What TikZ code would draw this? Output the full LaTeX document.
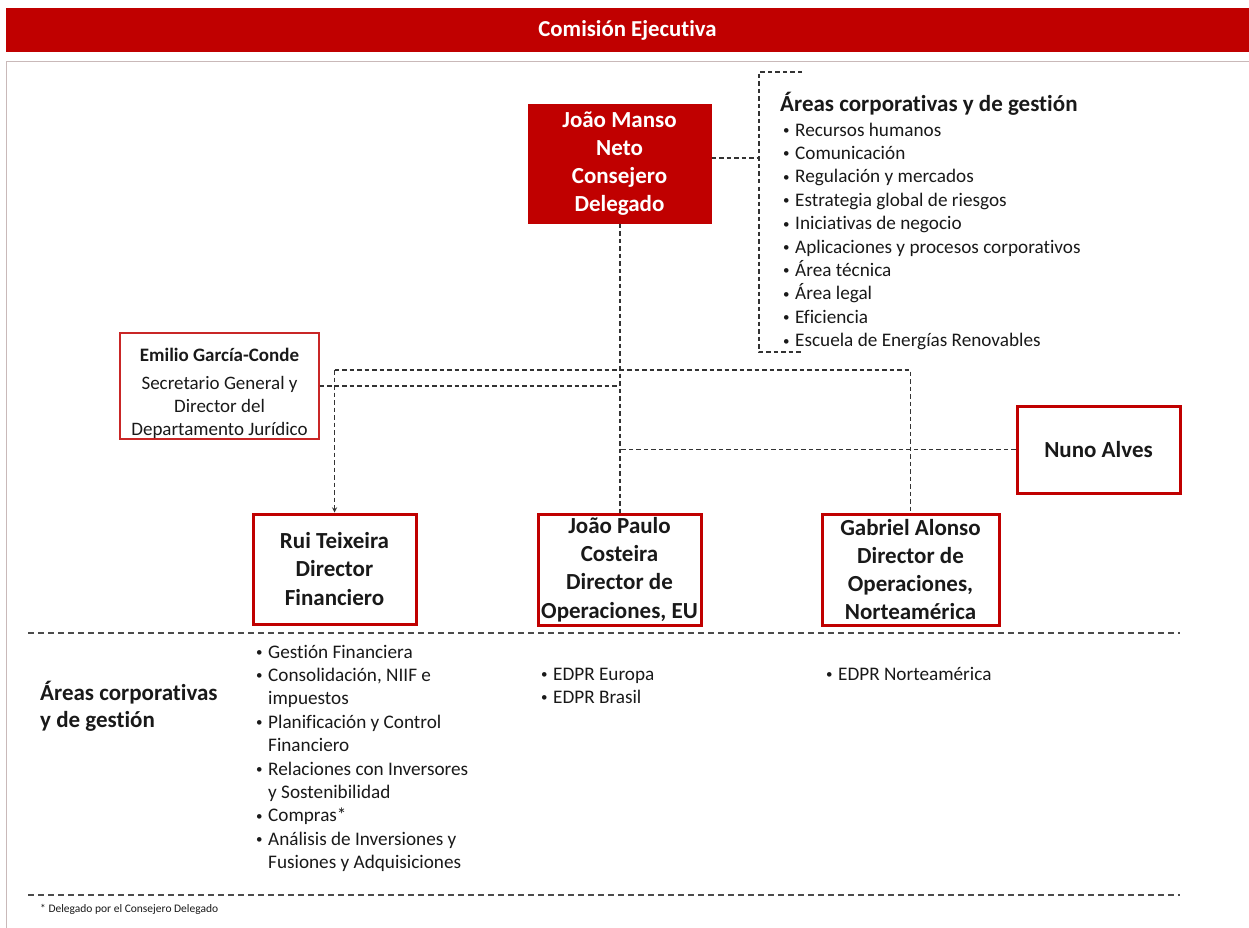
\documentclass[tikz,border=0pt]{standalone}
\usepackage{fontspec}
\setmainfont{Carlito}[Ligatures=NoCommon]
\usetikzlibrary{arrows,%
                positioning,%
                calc
              }
\definecolor{edpred}{HTML}{C00000}
\definecolor{framegray}{HTML}{C9B9B9}
\def\bl{\makebox[12pt][l]{\raisebox{1.5pt}{\fontsize{13}{13}\selectfont\textbullet}}}
\def\cn{\hspace*{12pt}}

\begin{document}
\begin{tikzpicture}[x=1pt,y=-1pt,
    every node/.style={inner sep=0pt,text=black!90},
    redbox/.style={rectangle,draw=edpred,line width=3pt,align=center,
      font=\bfseries\fontsize{23}{28.3}\selectfont},
    linkline/.style={draw=black!80,line width=1.3pt,dash pattern=on 4.5pt off 3pt},
    sepline/.style={draw=black!70,line width=1.1pt,dash pattern=on 6pt off 4pt},
    itemlist/.style={anchor=base west,align=left,% base = last line
      font=\fontsize{19.2}{23.4}\selectfont}]

    \useasboundingbox (0,0) rectangle (1249,928);

    %% HEADER AND FRAME
    \node[rectangle,fill=edpred,minimum width=1243pt,minimum height=44pt,
      text=white,font=\bfseries\fontsize{22.8}{26}\selectfont] (title)
      at (627.5,30) {Comisión Ejecutiva};
    \draw[framegray,line width=1pt] (6,928) -- (6,62) -- (1249,62);

    %% BOXES
    \node[redbox,fill=edpred,text=white,minimum width=183pt,minimum height=118pt,
      line width=1pt,font=\bfseries\fontsize{23}{28}\selectfont] (jmn)
      at (619.5,164) {João Manso\\Neto\\Consejero\\Delegado};
    \node[rectangle,draw=edpred!85,line width=1.3pt,minimum width=199pt,
      minimum height=106pt] (emi) at (219.5,386) {};
    \node[anchor=base,align=center,font=\fontsize{19}{23}\selectfont] (emitext)
      at (219.5,435) {{\bfseries Emilio García-Conde}\\[5pt]%
      Secretario General y\\Director del\\Departamento Jurídico};
    \node[redbox,minimum width=163pt,minimum height=87pt] (nuno)
      at (1098.5,449.5) {Nuno Alves};
    \node[redbox,minimum width=163pt,minimum height=110pt] (rui)
      at (334.5,569) {Rui Teixeira\\Director\\Financiero};
    \node[redbox,minimum width=163pt,minimum height=111pt] (jpc)
      at (619.5,569.5) {João Paulo\\Costeira\\Director de\\Operaciones, EU};
    \node[redbox,minimum width=177pt,minimum height=111pt] (gab)
      at (910.5,569.5) {Gabriel Alonso\\Director de\\Operaciones,\\Norteamérica};

    %% DRAW LINKS
    \coordinate (spine) at (619.5,370);
    \coordinate (brk) at (759,158);
    \draw[linkline,line width=2pt] (jmn.south) -- (jpc.north);
    \draw[linkline] (rui.north |- spine) -- (gab.north |- spine) -- (gab.north);
    \draw[linkline,-stealth] (rui.north |- spine) -- (rui.north);
    \draw[linkline] (emi.east) -- (emi.east -| jmn.south);
    \draw[linkline] (nuno.west) -- (nuno.west -| jmn.south);
    \draw[linkline] (jmn.east |- brk) -- (brk);
    \draw[linkline] (802,72) -- (759,72) -- (759,352) -- (802,352);% bracket

    %% AREAS (TOP)
    \node[anchor=base west,font=\bfseries\fontsize{23}{26}\selectfont] (acg)
      at (780,112) {Áreas corporativas y de gestión};
    \node[itemlist] (acglist) at (783,346.6) {%
      \bl Recursos humanos\\
      \bl Comunicación\\
      \bl Regulación y mercados\\
      \bl Estrategia global de riesgos\\
      \bl Iniciativas de negocio\\
      \bl Aplicaciones y procesos corporativos\\
      \bl Área técnica\\
      \bl Área legal\\
      \bl Eficiencia\\
      \bl Escuela de Energías Renovables};

    %% AREAS (BOTTOM)
    \draw[sepline] (28,633) -- (1180,633);
    \draw[sepline] (28,895) -- (1180,895);
    \node[anchor=base west,align=left,font=\bfseries\fontsize{23}{27}\selectfont]
      (acgleft) at (40,727) {Áreas corporativas\\y de gestión};
    \node[itemlist] (ruilist) at (256,868.6) {%
      \bl Gestión Financiera\\
      \bl Consolidación, NIIF e\\
      \cn impuestos\\
      \bl Planificación y Control\\
      \cn Financiero\\
      \bl Relaciones con Inversores\\
      \cn y Sostenibilidad\\
      \bl Compras*\\
      \bl Análisis de Inversiones y\\
      \cn Fusiones y Adquisiciones};
    \node[itemlist] (jpclist) at (541,703.4) {\bl EDPR Europa\\ \bl EDPR Brasil};
    \node[itemlist] (gablist) at (826,680) {\bl EDPR Norteamérica};

    \node[anchor=base west,font=\fontsize{11.5}{13}\selectfont] (fn)
      at (40,912) {* Delegado por el Consejero Delegado};

\end{tikzpicture}
\end{document}
